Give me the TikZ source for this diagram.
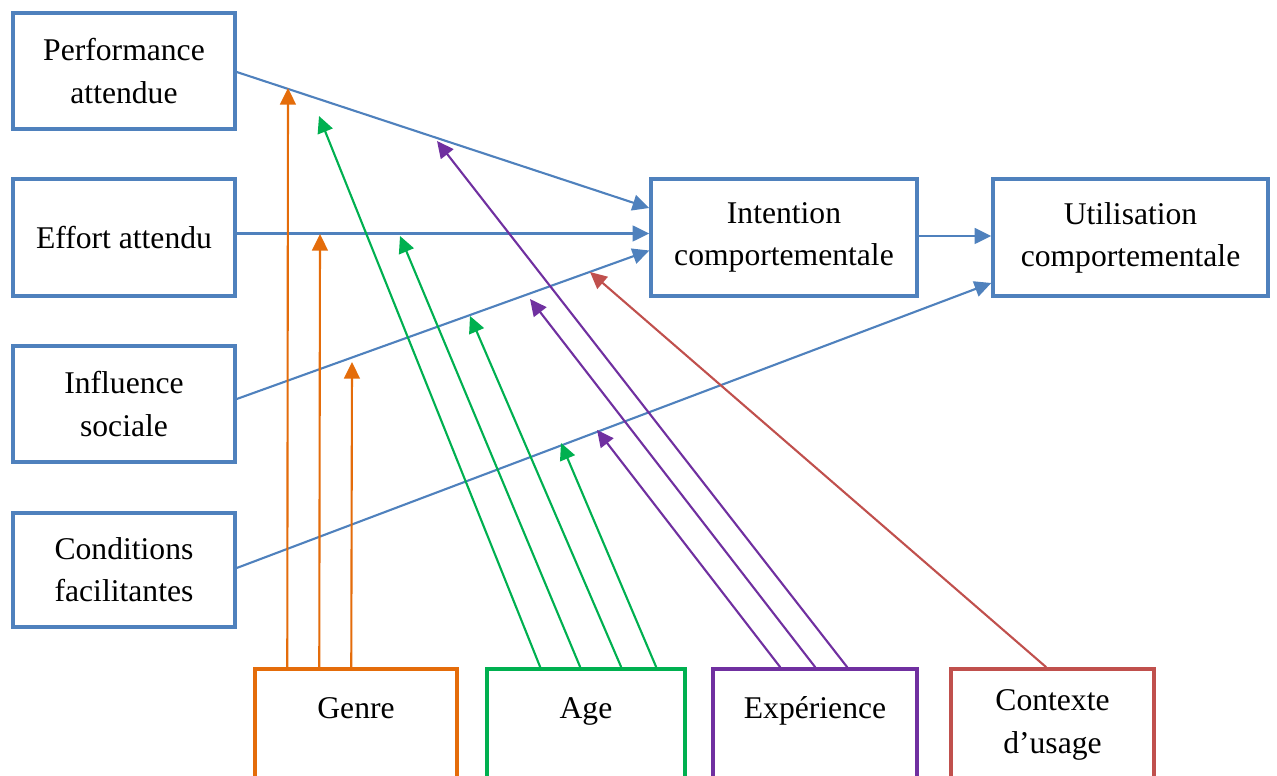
\documentclass[tikz,border=0pt]{standalone}
\usepackage{fontspec}
\setmainfont{Liberation Serif}
\usetikzlibrary{arrows.meta,calc}
\definecolor{cblue}{HTML}{4F81BD}
\definecolor{corange}{HTML}{E46C0A}
\definecolor{cgreen}{HTML}{00B050}
\definecolor{cpurple}{HTML}{7030A0}
\definecolor{cred}{HTML}{C0504D}
\begin{document}
\begin{tikzpicture}[x=0.02cm,y=-0.02cm,
  box/.style={draw=#1,line width=2pt,fill=white,align=center,inner sep=0pt,
    font=\fontsize{18}{24}\selectfont},
  lbl/.style={align=center,inner sep=0pt,font=\fontsize{18}{24}\selectfont},
  conn/.style={draw=#1,line width=1.2pt,-{Triangle[length=9.5pt,width=9pt]}},
]
\useasboundingbox (0,0) rectangle (1277,776);

% constructs on the left
\node[box=cblue,minimum width=4.44cm,minimum height=2.32cm] (perf) at (124,71) {Performance\\attendue};
\node[box=cblue,minimum width=4.44cm,minimum height=2.34cm] (eff) at (124,237.5) {Effort attendu};
\node[box=cblue,minimum width=4.44cm,minimum height=2.32cm] (infl) at (124,404) {Influence\\sociale};
\node[box=cblue,minimum width=4.44cm,minimum height=2.28cm] (cond) at (124,570) {Conditions\\facilitantes};

% outcomes
\node[box=cblue,minimum width=5.32cm,minimum height=2.34cm] (intent) at (784,237.5) {Intention\\comportementale};
\node[box=cblue,minimum width=5.5cm,minimum height=2.34cm] (util) at (1130.5,237.5) {Utilisation\\comportementale};

% moderators along the bottom
\node[box=corange,minimum width=4.04cm,minimum height=2.18cm] (genre) at (356,723.5) {};
\node[box=cgreen,minimum width=3.96cm,minimum height=2.18cm] (age) at (586,723.5) {};
\node[box=cpurple,minimum width=4.08cm,minimum height=2.18cm] (exp) at (815,723.5) {};
\node[box=cred,minimum width=4.06cm,minimum height=2.18cm] (ctx) at (1052.5,723.5) {};
\node[lbl,anchor=base] (genreT) at (356,718) {Genre};
\node[lbl,anchor=base] (ageT) at (586,718) {Age};
\node[lbl,anchor=base] (expT) at (815,718) {Expérience};
\node[lbl] (ctxT) at (1052.5,725) {Contexte\\d’usage};

% main paths
\draw[conn=cblue] ($(perf.east)+(0,1)$) -- ($(intent.west)+(0,-29.5)$);
\draw[conn=cblue] ($(eff.east)+(0,-4)$) -- ($(intent.west)+(0,-4)$);
\draw[conn=cblue] ($(infl.east)+(0,-5)$) -- ($(intent.west)+(0,13)$);
\draw[conn=cblue] ($(cond.east)+(0,-2)$) -- ($(util.west)+(0,45.5)$);
\draw[conn=cblue] ($(intent.east)+(0,-1.5)$) -- ($(util.west)+(0,-1.5)$);

% tips of the moderating arrows
\coordinate (g1) at (288,88);
\coordinate (g2) at (320,234);
\coordinate (g3) at (352,362);
\coordinate (a1) at (319,116);
\coordinate (a2) at (400,236);
\coordinate (a3) at (470,316);
\coordinate (a4) at (561,443);
\coordinate (e1) at (597,430);
\coordinate (e2) at (530,299);
\coordinate (e3) at (437,141);
\coordinate (c1) at (590,272);

% gender
\draw[conn=corange] ($(genre.north west)+(34,0)$) -- (g1);
\draw[conn=corange] ($(genre.north west)+(66,0)$) -- (g2);
\draw[conn=corange] ($(genre.north west)+(98,0)$) -- (g3);
% age
\draw[conn=cgreen] ($(age.north west)+(55,0)$) -- (a1);
\draw[conn=cgreen] ($(age.north west)+(95,0)$) -- (a2);
\draw[conn=cgreen] ($(age.north west)+(136,0)$) -- (a3);
\draw[conn=cgreen] ($(age.north west)+(171,0)$) -- (a4);
% experience
\draw[conn=cpurple] ($(exp.north west)+(69,0)$) -- (e1);
\draw[conn=cpurple] ($(exp.north west)+(104,0)$) -- (e2);
\draw[conn=cpurple] ($(exp.north west)+(136,0)$) -- (e3);
% context of use
\draw[conn=cred] ($(ctx.north west)+(97,0)$) -- (c1);
\end{tikzpicture}
\end{document}
